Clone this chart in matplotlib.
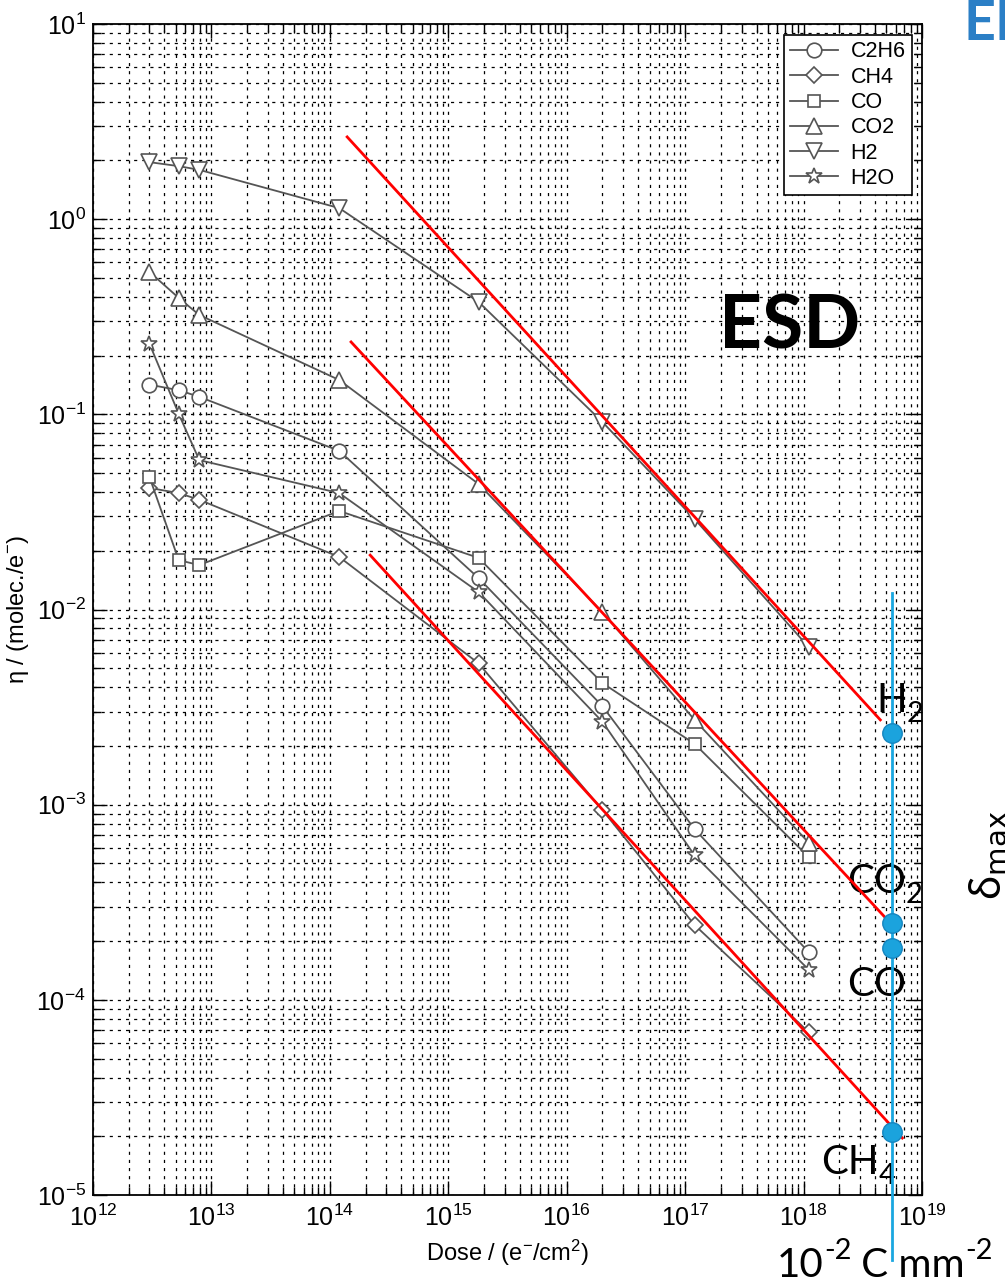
#!/usr/bin/env python3

import numpy as np
import matplotlib
matplotlib.use("Agg")
import matplotlib.pyplot as plt
from matplotlib.ticker import LogLocator, NullFormatter

plt.rcParams['font.family'] = ['Liberation Sans', 'DejaVu Sans']
plt.rcParams['mathtext.fontset'] = 'custom'
plt.rcParams['mathtext.rm'] = 'Liberation Sans'
plt.rcParams['mathtext.it'] = 'Liberation Sans:italic'
plt.rcParams['mathtext.bf'] = 'Liberation Sans:bold'

# ESD yields vs dose
dose = [3e12, 5.3e12, 7.9e12, 1.2e14, 1.8e15, 2e16, 1.2e17, 1.1e18]
c2h6 = [0.142, 0.133, 0.123, 0.065, 0.0145, 0.0032, 7.5e-4, 1.76e-4]
ch4 = [0.042, 0.0395, 0.0365, 0.0186, 0.0053, 9.4e-4, 2.42e-4, 6.85e-5]
co = [0.0477, 0.0179, 0.0169, 0.032, 0.0184, 0.0042, 0.00205, 5.4e-4]
co2 = [0.537, 0.395, 0.323, 0.150, 0.044, 0.0097, 0.00272, 6.4e-4]
h2 = [1.96, 1.87, 1.79, 1.14, 0.377, 0.0914, 0.0291, 0.00643]
h2o = [0.23, 0.1005, 0.0583, 0.0395, 0.0123, 0.00266, 5.5e-4, 1.43e-4]

series_names = ["C2H6", "CH4", "CO", "CO2", "H2", "H2O"]
series_values = [c2h6, ch4, co, co2, h2, h2o]

# red guide lines (start / end)
guide_x = [[1.40e14, 4.44e18], [1.51e14, 5.38e18], [2.19e14, 6.81e18]]
guide_y = [[2.64, 2.72e-3], [0.235, 2.48e-4], [0.0190, 1.96e-5]]

# blue marker column at 1e-2 C/mm2
dmax_x = 5.6e18
dmax_line_y = [0.01216, 4.66e-6]
dmax_names = ["H2", "CO2", "CO", "CH4"]
dmax_values = [2.33e-3, 2.48e-4, 1.85e-4, 2.11e-5]


def chain_text(ax, x, y, parts, size, color='black', family='Lato', coords=None):
    # parts: list of (text, kind), kind is 'n', 'sub' or 'sup'
    t = ax.text(x, y, parts[0][0], fontsize=size, family=family, color=color,
                ha='left', va='baseline', transform=coords, clip_on=False)
    prev = t
    for txt, kind in parts[1:]:
        if kind == 'sub':
            dy, fs = -size * 0.2, size * 0.72
        elif kind == 'sup':
            dy, fs = size * 0.5, size * 0.72
        else:
            dy, fs = 0, size
        prev = ax.annotate(txt, xy=(1.0, 0.0), xycoords=(prev, t),
                           xytext=(0, dy), textcoords='offset points',
                           fontsize=fs, family=family, color=color,
                           ha='left', va='bottom', annotation_clip=False)
    return t


def main():
    fig = plt.figure(figsize=(10.05, 12.85), dpi=100)
    ax = fig.add_axes([0.0925, 0.070, 0.825, 0.9113])

    markers = ['o', 'D', 's', '^', 'v', '*']
    sizes = [10.5, 8.5, 9, 11, 11, 12]
    for name, vals, m, ms in zip(series_names, series_values, markers, sizes):
        ax.plot(dose, vals, color='#555555', lw=1.3, marker=m, markersize=ms,
                markerfacecolor='white', markeredgecolor='#555555',
                markeredgewidth=1.2, label=name, zorder=3)

    for gx, gy in zip(guide_x, guide_y):
        ax.plot(gx, gy, color='red', lw=2, zorder=4)

    ax.plot([dmax_x, dmax_x], dmax_line_y, color='#1aa7e0', lw=2, zorder=5,
            clip_on=False)
    ax.plot([dmax_x] * len(dmax_values), dmax_values, 'o', color='#1ba3dd',
            markeredgecolor='#1585bf', markersize=14, zorder=6, clip_on=False)

    ax.set_xscale('log')
    ax.set_yscale('log')
    ax.set_xlim(1e12, 1e19)
    ax.set_ylim(1e-5, 1e1)

    ax.xaxis.set_major_locator(LogLocator(base=10, numticks=20))
    ax.yaxis.set_major_locator(LogLocator(base=10, numticks=20))
    ax.xaxis.set_minor_locator(LogLocator(base=10, subs=np.arange(2, 10), numticks=200))
    ax.yaxis.set_minor_locator(LogLocator(base=10, subs=np.arange(2, 10), numticks=200))
    ax.xaxis.set_minor_formatter(NullFormatter())
    ax.yaxis.set_minor_formatter(NullFormatter())

    ax.tick_params(which='both', direction='in', top=True, right=True,
                   labelsize=18, colors='black')
    ax.tick_params(which='major', length=10, width=1)
    ax.tick_params(which='minor', length=6, width=1)
    ax.tick_params(axis='x', pad=7)
    ax.tick_params(axis='y', pad=5)
    ax.grid(True, which='both', linestyle=(0, (2.5, 4)), color='black', lw=0.9)
    for sp in ax.spines.values():
        sp.set_linewidth(1.3)

    ax.set_xlabel(r"Dose / (e$^{-}$/cm$^{2}$)", fontsize=17, labelpad=5)
    ax.set_ylabel(r"η / (molec./e$^{-}$)", fontsize=17, labelpad=4)

    leg = ax.legend(loc='upper right', bbox_to_anchor=(0.988, 0.9906),
                    borderaxespad=0, fontsize=15.5, fancybox=False,
                    edgecolor='black', framealpha=1, handlelength=2.2,
                    handletextpad=0.6, labelspacing=0.2, borderpad=0.3)
    leg.get_frame().set_linewidth(1.2)
    leg.set_zorder(10)

    tr = fig.transFigure
    W, H = 1005.0, 1285.0

    fig.text(790 / W, 1 - 327 / H, "ESD", fontsize=54, family='Lato',
             fontweight='bold', ha='center', va='center')
    fig.text(963 / W, 1 - 40 / H, "EL", fontsize=40, family='Lato',
             fontweight='bold', color='#2b7fc6', ha='left', va='baseline')
    fig.text(990 / W, 1 - 855 / H, r"δ$_{\mathrm{max}}$", fontsize=30,
             family=['Noto Sans', 'DejaVu Sans'], math_fontfamily='dejavusans',
             rotation=90, ha='center', va='center')

    lab_size = 29
    chain_text(ax, 876 / W, 1 - 712 / H, [("H", 'n'), ("2", 'sub')], lab_size, coords=tr)
    chain_text(ax, 847 / W, 1 - 893 / H, [("CO", 'n'), ("2", 'sub')], lab_size, coords=tr)
    chain_text(ax, 847 / W, 1 - 996 / H, [("CO", 'n')], lab_size, coords=tr)
    chain_text(ax, 821 / W, 1 - 1174 / H, [("CH", 'n'), ("4", 'sub')], lab_size, coords=tr)
    chain_text(ax, 777 / W, 1 - 1277 / H,
               [("10", 'n'), ("-2", 'sup'), (" C mm", 'n'), ("-2", 'sup')],
               lab_size, coords=tr)

    fig.savefig("out.png", dpi=100)


if __name__ == "__main__":
    main()
